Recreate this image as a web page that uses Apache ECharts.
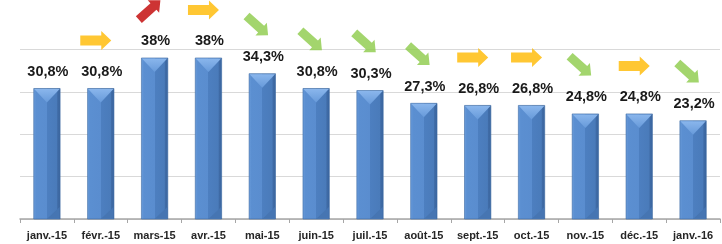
<!DOCTYPE html>
<html>
<head>
<meta charset="utf-8">
<script src="https://cdn.jsdelivr.net/npm/echarts@6/dist/echarts.min.js"></script>
<style>
html,body{margin:0;padding:0;background:#fff;}
#c{width:722px;height:244px;}
</style>
</head>
<body>
<div id="c"></div>
<script>
const categories = ['janv.-15','févr.-15','mars-15','avr.-15','mai-15','juin-15','juil.-15','août-15','sept.-15','oct.-15','nov.-15','déc.-15','janv.-16'];
const values = [30.8, 30.8, 38, 38, 34.3, 30.8, 30.3, 27.3, 26.8, 26.8, 24.8, 24.8, 23.2];
const trends = [null, 'flat', 'up', 'flat', 'down', 'down', 'down', 'down', 'flat', 'flat', 'down', 'flat', 'down'];
const yTicks = [0, 10, 20, 30, 40];

const ARROW = 'path://M0,4.5 L21,4.5 L21,0 L31,9.5 L21,19 L21,14.5 L0,14.5 Z';
const trendStyle = {
  flat: {color: '#FFB900', rotate: 0, size: [31, 19]},
  up:   {color: '#C00000', rotate: 42, size: [29, 17]},
  down: {color: '#8CCB48', rotate: -42, size: [29, 17]}
};
function fmt(v) { return String(v).replace('.', ',') + '%'; }

const chart = echarts.init(document.getElementById('c'));
const arrowData = [];
trends.forEach((t, i) => {
  if (!t) return;
  const s = trendStyle[t];
  arrowData.push({value: [i, values[i]], symbol: ARROW, symbolSize: s.size, symbolRotate: s.rotate, itemStyle: {color: s.color}});
});

chart.setOption({
  animation: false,
  grid: {left: 20, right: 2, top: 49.5, bottom: 25},
  xAxis: {
    type: 'category',
    data: categories,
    axisLine: {lineStyle: {color: '#a6a6a6', width: 1.5}},
    axisTick: {show: true, length: 4, interval: 0, lineStyle: {color: '#a6a6a6'}},
    axisLabel: {interval: 0, color: '#262626', fontFamily: 'Liberation Sans', fontWeight: 'bold', fontSize: 11, margin: 11}
  },
  yAxis: {
    type: 'value', min: yTicks[0], max: yTicks[yTicks.length - 1], interval: 10,
    axisLabel: {show: false}, axisLine: {show: false}, axisTick: {show: false},
    splitLine: {lineStyle: {color: '#d9d9d9', width: 1}}
  },
  series: [
    {
      type: 'custom',
      data: values.map((v, i) => [i, v]),
      renderItem: function (params, api) {
        const idx = api.value(0), v = api.value(1);
        const top = api.coord([idx, v]);
        const base = api.coord([idx, 0]);
        const bw = api.size([1, 0])[0] * 0.49;
        const cx = top[0], l = cx - bw / 2, r = cx + bw / 2, t = top[1], b = base[1];
        return {
          type: 'group',
          children: [
            {type: 'rect', shape: {x: l, y: t, width: bw, height: b - t},
             style: {fill: new echarts.graphic.LinearGradient(0, 0, 1, 0, [
               {offset: 0, color: '#6a9cdb'}, {offset: 0.1, color: '#5b8fd1'},
               {offset: 0.5, color: '#5a8dcf'}, {offset: 0.5, color: '#4d7fc0'},
               {offset: 0.86, color: '#4a7bba'}, {offset: 0.9, color: '#3f6ba6'},
               {offset: 1, color: '#3a659e'}]), stroke: '#3d69a2', lineWidth: 0.6}},
            {type: 'polygon', shape: {points: [[l + 0.5, t + 0.5], [r - 0.5, t + 0.5], [cx, t + 14]]},
             style: {fill: new echarts.graphic.LinearGradient(0, 0, 0, 1, [
               {offset: 0, color: '#8ab6ec'}, {offset: 1, color: '#679ada'}])}},
            {type: 'polygon', shape: {points: [[cx, b], [r - 0.5, b], [r - 0.5, b - 12]]},
             style: {fill: '#4675b2'}},
            {type: 'text', style: {text: fmt(v), x: cx + 1, y: t - 9, align: 'center', verticalAlign: 'bottom',
             font: 'bold 14.5px "Liberation Sans"', fill: '#1a1a1a'}}
          ]
        };
      },
      z: 2
    },
    {
      type: 'scatter',
      clip: false,
      data: arrowData,
      symbolOffset: [-5, -48],
      z: 3
    }
  ]
});
</script>
</body>
</html>
